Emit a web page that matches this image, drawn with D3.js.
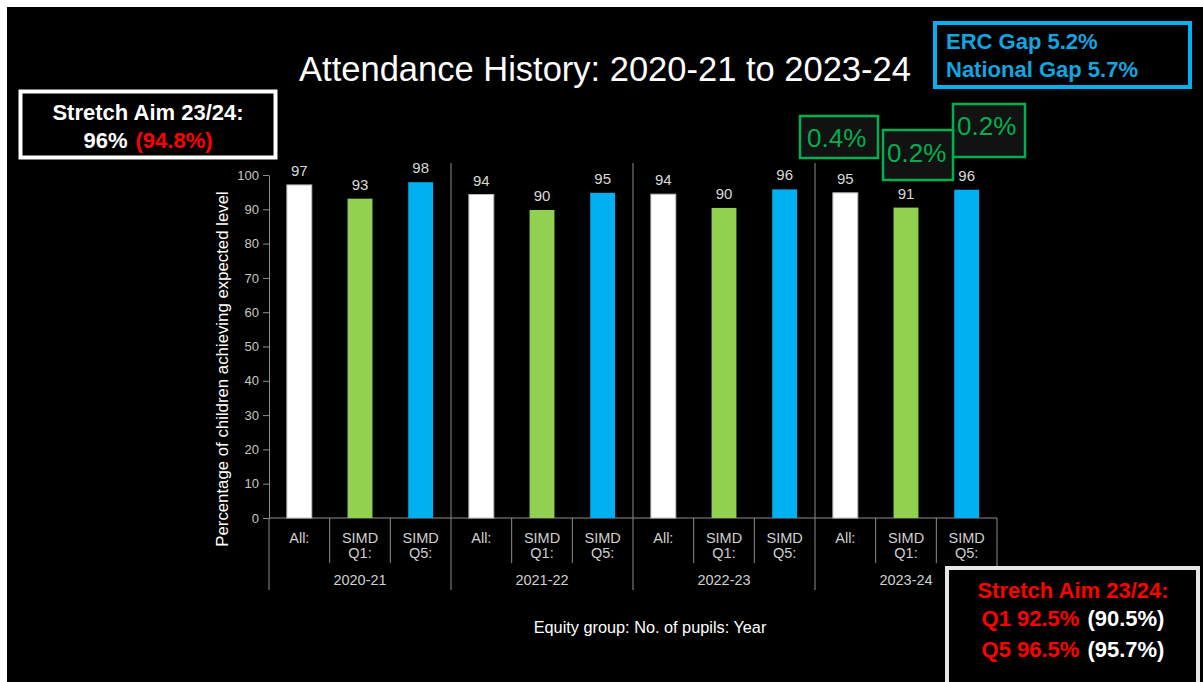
<!DOCTYPE html>
<html>
<head>
    <title>Attendance History</title>
    <script src="https://d3js.org/d3.v7.min.js"></script>
    <style>
      body{margin:0;background:#fff;}
      text{font-family:"Liberation Sans",Arial,sans-serif;}
      .tick text{fill:#c8c8c8;font-size:13px;}
      .tick line, .domain{stroke:#8c8c8c;}
      .bold{font-weight:bold;}
    </style>
</head>
<body>
<script>
// data
var years=["2020-21","2021-22","2022-23","2023-24"];
var groups=["All:","SIMD Q1:","SIMD Q5:"];
var allPupils=[97.1,94.3,94.4,94.8];
var simdQ1=[93.1,89.8,90.4,90.5];
var simdQ5=[97.9,94.8,95.8,95.7];
var yTicks=[0,10,20,30,40,50,60,70,80,90,100];
var gapLabels=["0.4%","0.2%","0.2%"];

var series=[allPupils,simdQ1,simdQ5];
var colors=["#ffffff","#92d050","#00b0f0"];

var rows=[];
years.forEach(function(yr,i){
  groups.forEach(function(g,j){
    rows.push({year:yr,group:g,gi:j,value:series[j][i]});
  });
});

var svg=d3.select("body").append("svg").attr("width",1203).attr("height",682);
svg.append("rect").attr("x",7).attr("y",7).attr("width",1196).attr("height",675).attr("fill","#000");

var plotTop=175, plotBottom=518, plotLeft=269, plotRight=997;

var x0=d3.scaleBand().domain(years).range([plotLeft,plotRight]);
var x1=d3.scaleBand().domain(groups).range([0,x0.bandwidth()]).paddingInner(0.59).paddingOuter(0.295);
var y=d3.scaleLinear().domain([0,100]).range([plotBottom,plotTop]);

// title
svg.append("text").attr("x",605).attr("y",81).attr("text-anchor","middle")
  .attr("fill","#fff").style("font-size","34.5px").text("Attendance History: 2020-21 to 2023-24");

// y axis
svg.append("g").attr("transform","translate("+plotLeft+",0)")
  .call(d3.axisLeft(y).tickValues(yTicks).tickSize(6).tickSizeOuter(0).tickPadding(4));

svg.append("text").attr("transform","translate(228,369) rotate(-90)").attr("text-anchor","middle")
  .attr("fill","#fff").style("font-size","16.8px").text("Percentage of children achieving expected level");

// x axis frame
var lineCol="#8c8c8c";
svg.append("line").attr("x1",plotLeft).attr("x2",plotRight).attr("y1",plotBottom).attr("y2",plotBottom).attr("stroke",lineCol);
rows.forEach(function(d){
  var xs=x0(d.year)+x1(d.group)-x1.step()*x1.paddingOuter();
  if(d.gi>0){
    svg.append("line").attr("x1",xs).attr("x2",xs).attr("y1",plotBottom).attr("y2",563).attr("stroke",lineCol);
  }
});
years.forEach(function(yr,i){
  var xs=x0(yr);
  svg.append("line").attr("x1",xs).attr("x2",xs).attr("y1",i==0?plotBottom:163).attr("y2",590).attr("stroke",lineCol);
});
svg.append("line").attr("x1",plotRight).attr("x2",plotRight).attr("y1",plotBottom).attr("y2",590).attr("stroke",lineCol);

// category labels
var cat=svg.append("g").selectAll("text").data(rows).enter().append("text")
  .attr("text-anchor","middle").attr("fill","#d0d0d0").style("font-size","14.5px")
  .attr("transform",function(d){return "translate("+(x0(d.year)+x1(d.group)+x1.bandwidth()/2)+",543)";});
cat.selectAll("tspan").data(function(d){return d.group.split(" ");}).enter().append("tspan")
  .attr("x",0).attr("dy",function(d,i){return i==0?0:15;}).text(function(d){return d;});

svg.append("g").selectAll("text").data(years).enter().append("text")
  .attr("x",function(d){return x0(d)+x0.bandwidth()/2;}).attr("y",585)
  .attr("text-anchor","middle").attr("fill","#d0d0d0").style("font-size","14.5px").text(function(d){return d;});

svg.append("text").attr("x",650).attr("y",633).attr("text-anchor","middle")
  .attr("fill","#fff").style("font-size","16.3px").text("Equity group: No. of pupils: Year");

// bars
svg.append("g").selectAll("rect").data(rows).enter().append("rect")
  .attr("x",function(d){return x0(d.year)+x1(d.group);})
  .attr("y",function(d){return y(d.value);})
  .attr("width",x1.bandwidth())
  .attr("height",function(d){return plotBottom-y(d.value);})
  .attr("fill",function(d){return colors[d.gi];})
  .attr("stroke",function(d){return d.gi==0?"#bfbfbf":"none";});

svg.append("g").selectAll("text").data(rows).enter().append("text")
  .attr("x",function(d){return x0(d.year)+x1(d.group)+x1.bandwidth()/2;})
  .attr("y",function(d){return y(d.value)-9;})
  .attr("text-anchor","middle").attr("fill","#d9d9d9").style("font-size","15px")
  .text(function(d){return d3.format(".0f")(d.value);});

// stretch aim box, top left
svg.append("rect").attr("x",20.5).attr("y",91.5).attr("width",255).attr("height",66)
  .attr("fill","#000").attr("stroke","#fff").attr("stroke-width",4);
svg.append("text").attr("x",148).attr("y",120).attr("text-anchor","middle").attr("class","bold")
  .attr("fill","#fff").style("font-size","22px").text("Stretch Aim 23/24:");
var t1=svg.append("text").attr("x",148).attr("y",148).attr("text-anchor","middle").attr("class","bold").style("font-size","22px");
t1.append("tspan").attr("fill","#fff").text("96%");
t1.append("tspan").attr("fill","#ff0000").attr("dx",8).text("(94.8%)");

// gap box, top right
svg.append("rect").attr("x",935).attr("y",23).attr("width",255).attr("height",64)
  .attr("fill","#000").attr("stroke","#00b0f0").attr("stroke-width",4);
svg.append("text").attr("x",946).attr("y",49).attr("class","bold").attr("fill","#12a5e0").style("font-size","22px").text("ERC Gap 5.2%");
svg.append("text").attr("x",946).attr("y",77).attr("class","bold").attr("fill","#12a5e0").style("font-size","22px").text("National Gap 5.7%");

// green change boxes over 2023-24
var gapBoxes=[{x:800,y:116,w:78,h:42,tx:807,ty:147},{x:953,y:104,w:72,h:53,tx:957,ty:135},{x:883,y:130,w:70,h:50,tx:887,ty:162}];
var gapOrder=[0,2,1];
gapBoxes.forEach(function(b,i){
  svg.append("rect").attr("x",b.x).attr("y",b.y).attr("width",b.w).attr("height",b.h)
    .attr("fill","#121212").attr("stroke","#00b050").attr("stroke-width",2.5);
  svg.append("text").attr("x",b.tx).attr("y",b.ty).attr("fill","#00b050").style("font-size","26px").text(gapLabels[gapOrder[i]]);
});

// stretch aim box, bottom right
svg.append("rect").attr("x",947).attr("y",568).attr("width",251).attr("height",130)
  .attr("fill","#000").attr("stroke","#e6e6e6").attr("stroke-width",4);
svg.append("text").attr("x",1073).attr("y",598).attr("text-anchor","middle").attr("class","bold")
  .attr("fill","#ff0000").style("font-size","22px").text("Stretch Aim 23/24:");
[["Q1 92.5%","(90.5%)",626],["Q5 96.5%","(95.7%)",657]].forEach(function(l){
  var t=svg.append("text").attr("x",1073).attr("y",l[2]).attr("text-anchor","middle").attr("class","bold").style("font-size","22px");
  t.append("tspan").attr("fill","#ff0000").text(l[0]);
  t.append("tspan").attr("fill","#fff").attr("dx",8).text(l[1]);
});
</script>
</body>
</html>
